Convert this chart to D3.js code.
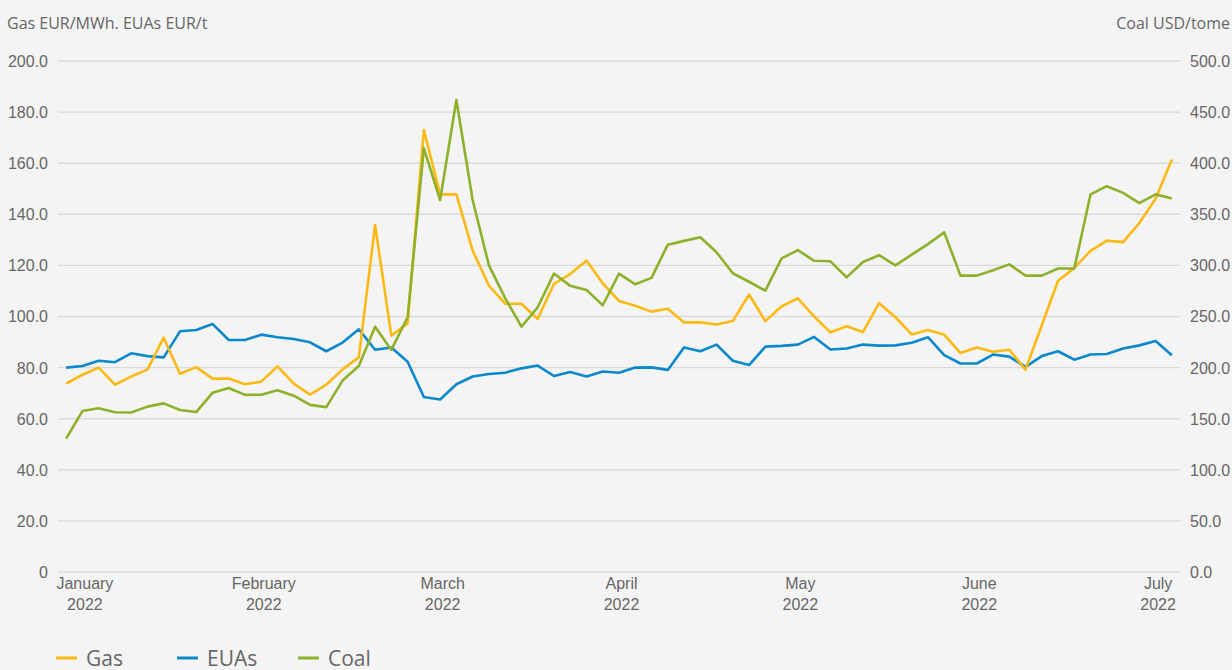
<!DOCTYPE html>
<html>
<head>
<meta charset="utf-8">
<script src="https://cdn.jsdelivr.net/npm/d3@7"></script>
<style>
  html, body { margin: 0; padding: 0; background: #f4f4f4; }
  svg { display: block; font-family: "Open Sans", "Noto Sans", sans-serif; }
  .tick text { fill: #666; font-size: 16px; }
</style>
</head>
<body>
<svg id="chart" width="1232" height="670"></svg>
<script>
// Weekly-ish observations, January to July 2022
const gas = [73.7,77.2,80.0,73.3,76.5,79.2,91.7,77.6,80.2,75.7,
             75.7,73.5,74.5,80.5,73.7,69.4,73.3,79.3,84.0,135.8,
             92.5,97.3,173.0,147.8,147.8,125.8,112.1,105.0,105.0,99.0,
             112.8,116.6,121.9,113.0,106.1,104.2,101.9,103.0,97.7,97.7,
             96.9,98.2,108.6,98.2,104.0,107.1,100.0,93.8,96.2,93.9,
             105.2,99.7,93.0,94.7,92.9,85.7,87.9,86.2,87.0,79.2,
             96.6,114.0,119.0,125.7,129.7,129.1,136.6,146.1,161.4];

const euas = [80.0,80.6,82.7,82.1,85.6,84.5,84.0,94.2,94.7,97.1,
              90.8,90.8,92.9,91.9,91.2,89.9,86.4,89.8,95.0,87.0,
              87.9,82.3,68.5,67.5,73.5,76.5,77.5,78.0,79.7,80.8,
              76.7,78.3,76.5,78.5,78.0,80.0,80.1,79.1,87.9,86.4,
              89.0,82.7,81.0,88.2,88.5,89.0,92.0,87.1,87.5,89.0,
              88.6,88.7,89.7,91.9,84.9,81.6,81.6,85.1,84.3,80.3,
              84.5,86.4,83.1,85.1,85.3,87.5,88.7,90.4,84.8];

const coal = [130.5,157.5,160.3,156.3,156.0,161.8,165.0,158.5,156.5,175.3,
              180.0,173.3,173.5,177.8,172.5,163.5,161.3,187.3,201.5,240.0,
              217.3,249.3,414.5,364.0,461.8,364.0,300.0,268.0,240.0,259.0,
              292.0,280.0,276.0,261.0,292.0,281.5,287.8,320.3,324.0,327.5,
              312.8,292.3,284.0,275.3,306.8,315.0,304.5,304.0,288.3,303.3,
              310.0,300.0,310.5,320.8,332.3,290.0,290.0,295.3,301.0,290.0,
              290.0,297.0,297.0,369.5,377.5,371.0,361.0,369.5,365.5];

// Position of each month label along the series, and its text
const monthTickIndex = [1, 12, 23, 34, 45, 56, 67];
const monthLabels = ["January", "February", "March", "April", "May", "June", "July"];
const yearLabel = "2022";

const leftTicks = [0, 20, 40, 60, 80, 100, 120, 140, 160, 180, 200];
const rightTicks = [0, 50, 100, 150, 200, 250, 300, 350, 400, 450, 500];

const seriesNames = ["Gas", "EUAs", "Coal"];
const colors = { Gas: "#fdb913", EUAs: "#0a88cc", Coal: "#8fb02a" };

const svg = d3.select("#chart");
const plot = { left: 58, right: 1180, top: 61, bottom: 572 };

const x = d3.scalePoint()
  .domain(d3.range(gas.length))
  .range([plot.left, plot.right])
  .padding(0.5);

const yLeft = d3.scaleLinear().domain([0, 200]).range([plot.bottom, plot.top]);
const yRight = d3.scaleLinear().domain([0, 500]).range([plot.bottom, plot.top]);

// Horizontal gridlines
svg.append("g")
  .selectAll("line")
  .data(leftTicks)
  .join("line")
  .attr("x1", plot.left)
  .attr("x2", plot.right)
  .attr("y1", d => yLeft(d))
  .attr("y2", d => yLeft(d))
  .attr("stroke", "#dadada")
  .attr("stroke-width", 1.4);

// Left axis (Gas and EUAs)
const leftAxis = svg.append("g")
  .attr("transform", `translate(${plot.left - 10},0)`)
  .call(d3.axisLeft(yLeft).tickValues(leftTicks).tickSize(0).tickPadding(0)
    .tickFormat(d => d === 0 ? "0" : d3.format(".1f")(d)));
leftAxis.select(".domain").remove();
leftAxis.selectAll("text").attr("dy", "0.34em");

// Right axis (Coal)
const rightAxis = svg.append("g")
  .attr("transform", `translate(${plot.right + 10},0)`)
  .call(d3.axisRight(yRight).tickValues(rightTicks).tickSize(0).tickPadding(0)
    .tickFormat(d3.format(".1f")));
rightAxis.select(".domain").remove();
rightAxis.selectAll("text").attr("dy", "0.34em");

// Month axis with two-line labels
const xAxis = svg.append("g")
  .attr("transform", `translate(2,${plot.bottom})`)
  .call(d3.axisBottom(x).tickValues(monthTickIndex).tickSize(0).tickPadding(0)
    .tickFormat((d, i) => monthLabels[i]));
xAxis.select(".domain").remove();
xAxis.selectAll(".tick text").each(function(d, i) {
  const t = d3.select(this);
  t.text(null).attr("y", 0).attr("dy", null);
  t.append("tspan").attr("x", 0).attr("y", 17).text(monthLabels[i]);
  t.append("tspan").attr("x", 0).attr("y", 38).text(yearLabel);
});

// Axis titles
svg.append("text")
  .attr("x", 7).attr("y", 29)
  .attr("fill", "#666").attr("font-size", 16)
  .text("Gas EUR/MWh. EUAs EUR/t");
svg.append("text")
  .attr("x", 1230).attr("y", 29)
  .attr("text-anchor", "end")
  .attr("fill", "#666").attr("font-size", 16)
  .text("Coal USD/tome");

// Lines
const lineLeft = d3.line().x((d, i) => x(i)).y(d => yLeft(d));
const lineRight = d3.line().x((d, i) => x(i)).y(d => yRight(d));

const seriesDefs = [
  { name: "EUAs", values: euas, gen: lineLeft },
  { name: "Gas", values: gas, gen: lineLeft },
  { name: "Coal", values: coal, gen: lineRight }
];

svg.append("g")
  .selectAll("path")
  .data(seriesDefs)
  .join("path")
  .attr("d", s => s.gen(s.values))
  .attr("fill", "none")
  .attr("stroke", s => colors[s.name])
  .attr("stroke-width", 2.6)
  .attr("stroke-linejoin", "round");

// Legend
const legendX = [56, 177, 298];
const legend = svg.append("g")
  .selectAll("g")
  .data(seriesNames)
  .join("g")
  .attr("transform", (d, i) => `translate(${legendX[i]},658)`);
legend.append("line")
  .attr("x1", 0).attr("x2", 21)
  .attr("y1", 0).attr("y2", 0)
  .attr("stroke", d => colors[d])
  .attr("stroke-width", 3);
legend.append("text")
  .attr("x", 30).attr("y", 7.5)
  .attr("fill", "#666")
  .attr("font-size", 21)
  .text(d => d);
</script>
</body>
</html>
